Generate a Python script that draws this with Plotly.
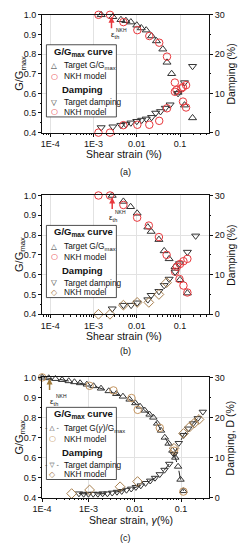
import math
import plotly.graph_objects as go

# ---------------- data ----------------
# panel (a)
a_tg_x = [0.0015, 0.0028, 0.0043, 0.0056, 0.0073, 0.010, 0.0127, 0.0165, 0.022, 0.0285, 0.040, 0.050, 0.064, 0.090, 0.127, 0.195]
a_tg_y = [1.0, 0.99, 0.975, 0.97, 0.963, 0.947, 0.933, 0.922, 0.892, 0.867, 0.825, 0.758, 0.70, 0.605, 0.54, 0.475]
a_nkh_x = [0.0013, 0.0024, 0.0049, 0.0103, 0.0195, 0.033, 0.050, 0.076, 0.083, 0.117, 0.138]
a_nkh_y = [1.0, 1.0, 0.963, 0.922, 0.892, 0.858, 0.787, 0.655, 0.617, 0.558, 0.528]
a_td_x = [0.0015, 0.0028, 0.0043, 0.0056, 0.0073, 0.010, 0.013, 0.0165, 0.022, 0.0274, 0.0354, 0.0457, 0.059, 0.090, 0.127, 0.195]
a_td_y = [1.3, 1.5, 1.9, 2.1, 2.5, 2.9, 3.2, 3.5, 3.9, 5.0, 5.4, 6.25, 7.1, 10.0, 12.75, 16.9]
a_nd_x = [0.0013, 0.0024, 0.0049, 0.0103, 0.0195, 0.033, 0.050, 0.076, 0.107, 0.117, 0.138]
a_nd_y = [0, 0, 1.9, 2.0, 2.0, 3.0, 6.2, 10.4, 11.25, 11.6, 12.1]

# panel (b)
b_tg_x = [0.0027, 0.0049, 0.0072, 0.0102, 0.018, 0.0215, 0.0325, 0.043, 0.056, 0.077, 0.10, 0.148]
b_tg_y = [1.0, 0.97, 0.943, 0.91, 0.84, 0.818, 0.777, 0.72, 0.68, 0.64, 0.574, 0.507]
b_nkh_x = [0.0013, 0.0024, 0.0049, 0.0102, 0.019, 0.0325, 0.049, 0.077, 0.097, 0.12, 0.148]
b_nkh_y = [1.0, 1.0, 0.952, 0.888, 0.848, 0.79, 0.70, 0.615, 0.578, 0.545, 0.51]
b_td_x = [0.0027, 0.0049, 0.0074, 0.0102, 0.018, 0.0215, 0.0325, 0.043, 0.056, 0.077, 0.097, 0.148, 0.23]
b_td_y = [1.4, 2.3, 2.3, 2.9, 3.7, 4.8, 5.8, 7.3, 8.9, 10.7, 12.8, 15.7, 19.8]
b_nd_x = [0.0013, 0.0024, 0.0049, 0.0102, 0.019, 0.0325, 0.049]
b_nd_y = [0, 0, 2.3, 3.0, 3.0, 5.0, 8.0]
b_nd2_x = [0.085, 0.10, 0.12, 0.148]
b_nd2_y = [12.0, 12.7, 13.4, 14.0]

# panel (c)
c_tg_x = [1.0e-4, 1.39e-4, 1.94e-4, 2.70e-4, 3.76e-4, 4.99e-4, 6.62e-4, 9.23e-4, 1.29e-3, 1.87e-3,
          2.74e-3, 4.0e-3, 5.56e-3, 7.74e-3, 0.0103, 0.0130, 0.0165, 0.0209, 0.0252, 0.0305,
          0.0369, 0.0446, 0.0538, 0.0650, 0.0750, 0.0863, 0.0973, 0.1125]
c_tg_y = [1.0, 0.997, 0.993, 0.988, 0.982, 0.977, 0.972, 0.965, 0.957, 0.945,
          0.932, 0.918, 0.905, 0.89, 0.872, 0.855, 0.835, 0.815, 0.80, 0.77,
          0.735, 0.70, 0.67, 0.635, 0.60, 0.555, 0.49, 0.433]
c_td_x = [6.24e-4, 7.89e-4, 1.0e-3, 1.27e-3, 1.60e-3, 2.03e-3, 2.57e-3, 3.26e-3, 4.13e-3, 5.23e-3,
          6.63e-3, 8.39e-3, 0.0106, 0.0135, 0.0171, 0.0216, 0.0274, 0.0347, 0.0439, 0.0556,
          0.0705, 0.0893, 0.113, 0.143, 0.182, 0.230, 0.295]
c_td_y = [1.0, 0.9, 0.9, 0.9, 0.9, 1.0, 1.0, 1.2, 1.4, 1.6,
          1.9, 2.2, 2.6, 3.0, 3.6, 4.2, 4.9, 5.8, 6.9, 8.4,
          10.8, 13.6, 15.6, 17.2, 18.5, 19.8, 21.4]
c_nkh_x = [1.0e-4, 1.06e-3, 3.47e-3, 8.51e-3, 0.0116, 0.0347, 0.0705, 0.112]
c_nkh_y = [1.0, 0.958, 0.935, 0.897, 0.838, 0.748, 0.634, 0.43]
c_nd_x = [4.34e-4, 1.06e-3, 4.83e-3, 0.0115, 0.0705, 0.113, 0.152, 0.193, 0.244]
c_nd_y = [1.0, 1.9, 2.7, 4.0, 12.3, 16.0, 17.6, 18.6, 19.5]

eps_a = [0.0026, 0.99]
eps_b = [0.0027, 0.99]
eps_c = [1.45e-4, 0.995]

x_tickvals = [1e-4, 1e-3, 1e-2, 1e-1]
x_ticktext = ["1E-4", "1E-3", "0.01", "0.1"]

# ---------------- style ----------------
W, H = 240, 550
FONT = "Liberation Sans Narrow, Liberation Sans, Arial, sans-serif"
BLACK = "#333333"
RED = "#e8383d"
BROWN = "#a8804f"
TAN = "#c49560"
X_L, X_R = 33.5, 207.5
PANELS = [(10.0, 130.0), (194.0, 315.0), (379.3, 501.7)]
XRANGES = [[-4.19, -0.333], [-4.19, -0.333], [-4.0, -0.40]]


def px(x):
    return x / W


def py(y):
    return 1 - y / H


minor_vals = [m * 10 ** e for e in range(-5, 0) for m in range(2, 10)]

fig = go.Figure()


def add(xs, ys, xa, ya, symbol, color, size=7, mode="markers", dash=None):
    fig.add_trace(go.Scatter(
        x=xs, y=ys, xaxis=xa, yaxis=ya, mode=mode, showlegend=False, cliponaxis=False,
        marker=dict(symbol=symbol, size=size, color=color, line=dict(width=1, color=color)),
        line=dict(color="#222222", width=1, dash=dash) if dash else None,
    ))


# (a)
add(a_td_x, a_td_y, "x", "y2", "triangle-down-open", BLACK)
add(a_nd_x, a_nd_y, "x", "y2", "circle-open", RED, 7.5)
add(a_tg_x, a_tg_y, "x", "y", "triangle-up-open", BLACK)
add(a_nkh_x, a_nkh_y, "x", "y", "circle-open", RED, 7.5)
# (b)
add(b_td_x, b_td_y, "x2", "y4", "triangle-down-open", BLACK)
add(b_nd_x, b_nd_y, "x2", "y4", "diamond-open", BROWN, 7.5)
add(b_nd2_x, b_nd2_y, "x2", "y4", "circle-open", RED, 7.5)
add(b_tg_x, b_tg_y, "x2", "y3", "triangle-up-open", BLACK)
add(b_nkh_x, b_nkh_y, "x2", "y3", "circle-open", RED, 7.5)
# (c)
add(c_td_x, c_td_y, "x3", "y6", "triangle-down-open", BLACK, 6.5, "lines+markers", "dash")
add(c_nd_x, c_nd_y, "x3", "y6", "diamond-open", BROWN, 7.5)
add(c_tg_x, c_tg_y, "x3", "y5", "triangle-up-open", BLACK, 6.5, "lines+markers", "dash")
add(c_nkh_x, c_nkh_y, "x3", "y5", "circle-open", TAN, 7.5)

tickfont = dict(family=FONT, size=9, color="#111111")

layout = dict(
    width=W, height=H, margin=dict(l=0, r=0, t=0, b=0),
    paper_bgcolor="white", plot_bgcolor="white",
    font=dict(family=FONT, size=9, color="#111111"),
    showlegend=False,
)

for i, (top, bot) in enumerate(PANELS):
    xn = "xaxis" if i == 0 else f"xaxis{i + 1}"
    yl = 2 * i + 1
    yr = 2 * i + 2
    yln = "yaxis" if yl == 1 else f"yaxis{yl}"
    yrn = f"yaxis{yr}"
    xa_ref = "x" if i == 0 else f"x{i + 1}"
    yl_ref = "y" if yl == 1 else f"y{yl}"
    dom_y = [py(bot), py(top)]
    layout[xn] = dict(
        domain=[px(X_L), px(X_R)], anchor=yl_ref, type="log", range=XRANGES[i],
        tickvals=x_tickvals, ticktext=x_ticktext, ticks="outside", ticklen=3,
        tickcolor="#111111", showline=True, linecolor="#111111", linewidth=1, mirror=True,
        showgrid=True, gridcolor="#e2e2e2", gridwidth=1, zeroline=False, tickfont=tickfont,
        minor=dict(tickvals=minor_vals, ticks="outside", ticklen=1.5, tickcolor="#111111", showgrid=False),
    )
    layout[yln] = dict(
        domain=dom_y, anchor=xa_ref, range=[0.4, 1.0], dtick=0.1, tickformat=".1f",
        ticks="outside", ticklen=3, tickcolor="#111111", showline=True, linecolor="#111111",
        linewidth=1, showgrid=False, zeroline=False, tickfont=tickfont,
        minor=dict(dtick=0.05, ticks="outside", ticklen=1.5, tickcolor="#111111"),
    )
    layout[yrn] = dict(
        domain=dom_y, anchor=xa_ref, overlaying=yl_ref, side="right", range=[0, 30],
        tickvals=[0, 10, 20, 30], ticks="outside", ticklen=3, tickcolor="#111111",
        showline=True, linecolor="#111111", linewidth=1, showgrid=True, gridcolor="#e2e2e2",
        zeroline=False, tickfont=tickfont,
        minor=dict(dtick=5, ticks="outside", ticklen=1.5, tickcolor="#111111"),
    )

fig.update_layout(**layout)

shapes = []
annotations = []


def txt(x, y, s, size=9, color="#111111", xanchor="left", yanchor="middle", fam=FONT, angle=0):
    annotations.append(dict(xref="paper", yref="paper", x=px(x), y=py(y), text=s, showarrow=False,
                            xanchor=xanchor, yanchor=yanchor, textangle=angle,
                            font=dict(family=fam, size=size, color=color)))


# axis titles
xtitles = ["Shear strain (%)", "Shear strain (%)", "Shear strain, <i>γ</i>(%)"]
rtitles = ["Damping (%)", "Damping (%)", "Damping, D (%)"]
xt_pos = [(119, 152), (119, 337), (126, 524.5)]
for i, (top, bot) in enumerate(PANELS):
    mid = (top + bot) / 2
    txt(xt_pos[i][0], xt_pos[i][1], xtitles[i], 10.5, "#111111", "center")
    txt(10.5, mid, "G/G<sub>max</sub>", 11, "#111111", "center", angle=-90)
    txt(230.5, mid, rtitles[i], 10.5, "#111111", "center", angle=-90)

legend_cfg = [
    ("Target G/G<sub>max</sub>", RED, "○", RED, "○", False),
    ("Target G/G<sub>max</sub>", RED, "○", BROWN, "◇", False),
    ("Target G(<i>γ</i>)/G<sub>max</sub>", TAN, "○", BROWN, "◇", True),
]
SYM = "DejaVu Sans, sans-serif"
for i, (top, bot) in enumerate(PANELS):
    shapes.append(dict(type="rect", xref="paper", yref="paper", x0=px(38), x1=px(111),
                       y0=py(top + 30.5), y1=py(top + 104), line=dict(color="#222222", width=0.8),
                       fillcolor="white", layer="above"))
    lab, c2, s2, c4, s4, dashed = legend_cfg[i]
    txt(44, top + 37.5, "<b>G/G<sub>max</sub> curve</b>", 9.5)
    txt(52, top + 76.5, "<b>Damping</b>", 9.5)
    if dashed:
        txt(44, top + 52, "- △ -", 6.5, BLACK, "center", fam=SYM)
        txt(44, top + 89, "- ▽ -", 6.5, BLACK, "center", fam=SYM)
    else:
        txt(46, top + 52, "△", 7.5, BLACK, "center", fam=SYM)
        txt(46, top + 89, "▽", 7.5, BLACK, "center", fam=SYM)
    txt(46 if not dashed else 44, top + 62.5, s2, 8, c2, "center", fam=SYM)
    txt(46 if not dashed else 44, top + 98.5, s4, 8, c4, "center", fam=SYM)
    txt(54, top + 52, lab, 8.3)
    txt(54, top + 62.5, "NKH model", 8.3)
    txt(54, top + 89, "Target damping", 8.3)
    txt(54, top + 98.5, "NKH model", 8.3)

# threshold strain arrows
for (ex, ey), xr, yr, col, lx, ly in [
    (eps_a, "x", "y", RED, 103, 30),
    (eps_b, "x2", "y3", RED, 101, 216),
    (eps_c, "x3", "y5", "#a07a3a", 40, 403),
]:
    annotations.append(dict(xref=xr, yref=yr, x=math.log10(ex), y=ey, ax=0, ay=13,
                            text="", showarrow=True, arrowhead=2, arrowsize=0.8, arrowwidth=1.5,
                            arrowcolor=col))
    txt(lx, ly + 1, "ε<sub>th</sub>", 8, "#111111", "left")
    txt(lx + 6, ly - 5, "NKH", 5, "#111111", "left")

# captions
txt(120, 170, "(a)", 9, "#111111", "center")
txt(120, 352, "(b)", 9, "#111111", "center")
txt(120, 543, "(c)", 9, "#111111", "center")

fig.update_layout(shapes=shapes, annotations=annotations)
fig.write_html(
    "out.html",
    config={"displayModeBar": False, "staticPlot": True},
    post_script="document.body.style.margin='0';document.body.style.padding='0';"
                "document.documentElement.style.overflow='hidden';",
)
